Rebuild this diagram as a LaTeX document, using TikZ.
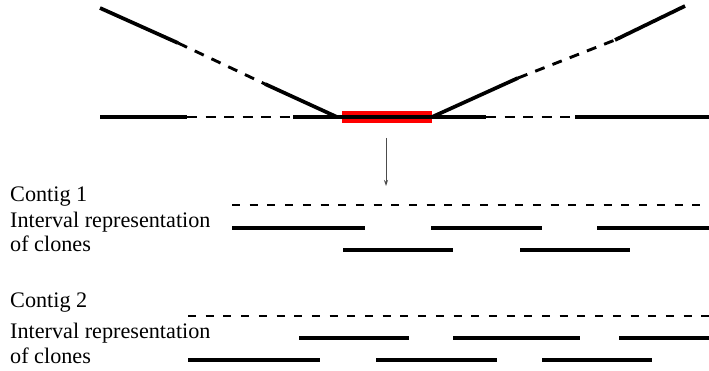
\documentclass[tikz,border=0pt]{standalone}
\usepackage{fontspec}
\setmainfont{Liberation Serif}
\usetikzlibrary{arrows.meta}
\begin{document}
\begin{tikzpicture}[x=1pt,y=-1pt,
  solidseg/.style={line width=3.7pt},
  dashseg/.style={line width=2.9pt,dash pattern=on 10pt off 8.5pt},
  contigdash/.style={line width=2.9pt,dash pattern=on 8pt off 9.7pt},
  label/.style={anchor=base west,inner sep=0pt,font=\fontsize{22.2}{25}\selectfont}]
\useasboundingbox (0,0) rectangle (709,371);
% red region
\fill[red] (342,111) rectangle (432,123);
% horizontal line
\draw[solidseg] (100,117) -- (187,117);
\draw[dashseg] (187,117) -- (293,117);
\draw[solidseg] (293,117) -- (486,117);
\draw[dashseg] (486,117) -- (575,117);
\draw[solidseg] (575,117) -- (709,117);
% left diagonal
\coordinate (la) at (100,8);
\coordinate (lb) at (178,43);
\coordinate (lc) at (265,84);
\coordinate (ld) at (337,117);
\draw[solidseg] (la) -- (lb);
\draw[dashseg] (lb) -- (lc);
\draw[solidseg] (lc) -- (ld);
% right diagonal
\coordinate (ra) at (432,117);
\coordinate (rb) at (518,78);
\coordinate (rc) at (615,40);
\coordinate (rd) at (685,6);
\draw[solidseg] (ra) -- (rb);
\draw[dashseg] (rb) -- (rc);
\draw[solidseg] (rc) -- (rd);
% arrow
\coordinate (arA) at (386,138);
\coordinate (arB) at (386,186);
\draw[gray!60!black,line width=0.9pt,-{Stealth[length=6pt,width=4pt]}] (arA) -- (arB);
% contig 1
\node[label] (c1) at (10,202) {Contig 1};
\node[label] (i1) at (10,228) {Interval representation};
\node[label] (o1) at (10,252) {of clones};
\draw[contigdash] (232,205) -- (709,205);
\draw[solidseg] (232,228) -- (365,228);
\draw[solidseg] (431,228) -- (542,228);
\draw[solidseg] (597,228) -- (709,228);
\draw[solidseg] (343,250) -- (453,250);
\draw[solidseg] (520,250) -- (630,250);
% contig 2
\node[label] (c2) at (10,307) {Contig 2};
\node[label] (i2) at (10,338) {Interval representation};
\node[label] (o2) at (10,363) {of clones};
\draw[contigdash] (188,316) -- (709,316);
\draw[solidseg] (299,338) -- (409,338);
\draw[solidseg] (453,338) -- (580,338);
\draw[solidseg] (619,338) -- (709,338);
\draw[solidseg] (188,360) -- (320,360);
\draw[solidseg] (376,360) -- (497,360);
\draw[solidseg] (542,360) -- (652,360);
\end{tikzpicture}
\end{document}
